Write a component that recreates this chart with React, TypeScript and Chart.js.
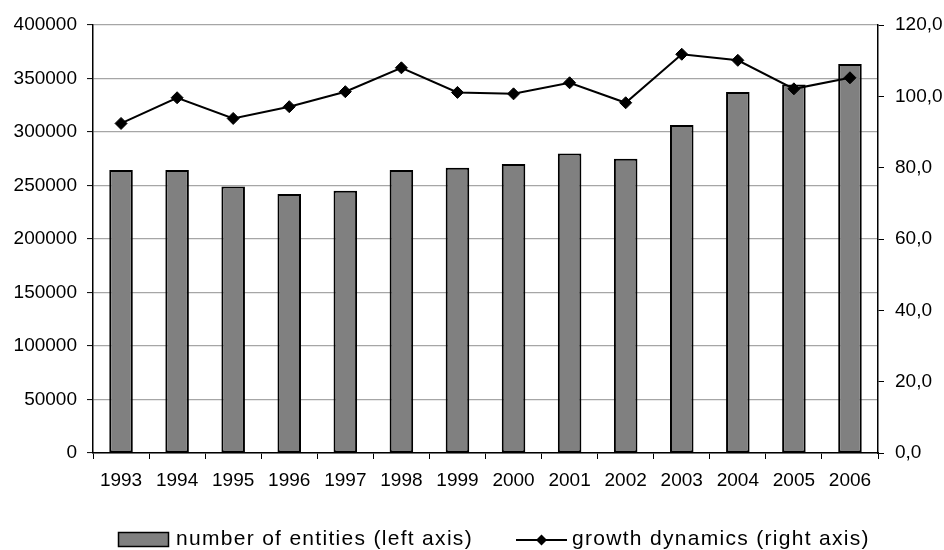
import React, { useEffect, useRef } from "react";
import { Chart, registerables } from "chart.js";

Chart.register(...registerables);

const years = ["1993", "1994", "1995", "1996", "1997", "1998", "1999", "2000", "2001", "2002", "2003", "2004", "2005", "2006"];
const entities = [264500, 264500, 249000, 242000, 245000, 264500, 266500, 270000, 280000, 275000, 306500, 337500, 344500, 363500];
const growth = [92.4, 99.6, 93.8, 97.1, 101.3, 108.0, 101.1, 100.7, 103.8, 98.2, 111.8, 110.1, 102.1, 105.2];
const seriesLabels = ["number of entities (left axis)", "growth dynamics (right axis)"];

const FONT = "'Liberation Sans', Arial, Helvetica, sans-serif";
const BAR_FILL = "#808080";

const legendPlugin = {
  id: "customLegend",
  afterDraw(chart: any) {
    const ctx = chart.ctx as CanvasRenderingContext2D;
    const ds = chart.data.datasets;
    ctx.save();
    ctx.font = `21px ${FONT}`;
    (ctx as any).letterSpacing = "1.3px";
    ctx.textAlign = "left";
    ctx.textBaseline = "alphabetic";
    const base = 545;
    // bar item
    ctx.fillStyle = ds[0].backgroundColor;
    ctx.fillRect(118.5, 532.5, 50, 14);
    ctx.strokeStyle = "#000";
    ctx.lineWidth = 1.5;
    ctx.strokeRect(118.5, 532.5, 50, 14);
    ctx.fillStyle = "#000";
    ctx.fillText(ds[0].label, 176, base);
    // line item
    ctx.beginPath();
    ctx.moveTo(516, 540);
    ctx.lineTo(567, 540);
    ctx.lineWidth = 2;
    ctx.strokeStyle = ds[1].borderColor;
    ctx.stroke();
    const cx = 541.5, cy = 540, r = 5.5;
    ctx.beginPath();
    ctx.moveTo(cx, cy - r);
    ctx.lineTo(cx + r, cy);
    ctx.lineTo(cx, cy + r);
    ctx.lineTo(cx - r, cy);
    ctx.closePath();
    ctx.fillStyle = "#000";
    ctx.fill();
    ctx.fillText(ds[1].label, 572, base);
    ctx.restore();
  },
};

export default function App() {
  const ref = useRef<HTMLCanvasElement | null>(null);

  useEffect(() => {
    if (!ref.current) return;
    const tickFont = { family: FONT, size: 19 };
    const chart = new Chart(ref.current, {
      type: "bar",
      data: {
        labels: years,
        datasets: [
          {
            type: "bar",
            label: seriesLabels[0],
            data: entities,
            backgroundColor: BAR_FILL,
            borderColor: "#000",
            borderWidth: 2,
            borderSkipped: false,
            barPercentage: 0.42,
            categoryPercentage: 1,
            yAxisID: "y",
            order: 2,
          },
          {
            type: "line",
            label: seriesLabels[1],
            data: growth,
            borderColor: "#000",
            backgroundColor: "#000",
            borderWidth: 2,
            pointStyle: "rectRot",
            pointRadius: 6,
            pointBorderWidth: 1,
            pointBackgroundColor: "#000",
            pointBorderColor: "#000",
            tension: 0,
            yAxisID: "y1",
            order: 1,
          },
        ],
      },
      options: {
        responsive: false,
        animation: false,
        devicePixelRatio: 1,
        layout: { padding: { top: 25, left: 0, right: 0, bottom: 57 } },
        plugins: { legend: { display: false }, tooltip: { enabled: false } },
        scales: {
          x: {
            offset: true,
            grid: {
              offset: true,
              drawOnChartArea: false,
              drawTicks: true,
              tickLength: 6,
              tickColor: "#000",
              tickWidth: 1,
            },
            border: { display: true, color: "#000", width: 1.5 },
            ticks: { color: "#000", font: tickFont, padding: 10, maxRotation: 0, autoSkip: false },
            afterFit: (s: any) => {
              s.height = 40;
            },
          },
          y: {
            position: "left",
            min: 0,
            max: 400000,
            ticks: {
              stepSize: 50000,
              color: "#000",
              font: tickFont,
              padding: 10,
              callback: (v: any) => String(v),
            },
            grid: { color: "#a6a6a6", lineWidth: 1.2, tickLength: 6, tickColor: "#000", tickWidth: 1 },
            border: { display: true, color: "#000", width: 1.5 },
            afterFit: (s: any) => {
              s.width = 93;
            },
          },
          y1: {
            position: "right",
            min: 0,
            max: 120,
            ticks: {
              stepSize: 20,
              color: "#000",
              font: tickFont,
              padding: 11,
              callback: (v: any) => Number(v).toFixed(1).replace(".", ","),
            },
            grid: { drawOnChartArea: false, tickLength: 6, tickColor: "#000", tickWidth: 1 },
            border: { display: true, color: "#000", width: 1.5 },
            afterFit: (s: any) => {
              s.width = 66;
            },
          },
        },
      },
      plugins: [legendPlugin],
    });
    return () => chart.destroy();
  }, []);

  return (
    <div style={{ position: "absolute", left: 0, top: 0, width: 944, height: 550, background: "#fff" }}>
      <canvas ref={ref} width={944} height={550} style={{ width: 944, height: 550, display: "block" }} />
    </div>
  );
}
